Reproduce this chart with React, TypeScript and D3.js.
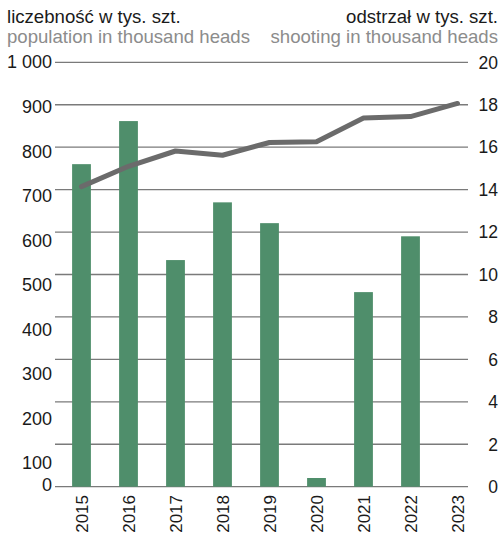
import React from "react";
import * as d3 from "d3";

const years = ["2015", "2016", "2017", "2018", "2019", "2020", "2021", "2022", "2023"];
// population in thousand heads (left axis) – line
const population = [707, 755, 791, 781, 811, 813, 869, 872, 903];
// shooting in thousand heads (right axis) – bars (2023 missing)
const shooting: (number | null)[] = [15.2, 17.23, 10.68, 13.4, 12.42, 0.41, 9.17, 11.8, null];
const leftTicks = [0, 100, 200, 300, 400, 500, 600, 700, 800, 900, 1000];
const rightTicks = [0, 2, 4, 6, 8, 10, 12, 14, 16, 18, 20];

const W = 502;
const H = 533;
const FONT = "'Liberation Sans', Arial, Helvetica, sans-serif";

export default function App() {
  const gridX0 = 55;
  const gridX1 = 468;
  const yTop = 62.3;
  const yBottom = 486.7;

  const x = d3.scaleBand<string>().domain(years).range([58, 481]).paddingInner(0.6).paddingOuter(0.3);
  const yLeft = d3.scaleLinear().domain([0, 1000]).range([yBottom, yTop]);
  const yRight = d3.scaleLinear().domain([0, 20]).range([yBottom, yTop]);
  // left labels in the original are spread slightly differently from the gridlines
  const yLeftLabel = d3.scaleLinear().domain([0, 100, 1000]).range([485, 463, 62]);

  const line = d3
    .line<number>()
    .x((_, i) => (x(years[i]) as number) + x.bandwidth() / 2)
    .y((d) => yLeft(d));

  const fmt = (v: number) => (v >= 1000 ? d3.format(",")(v).replace(",", " ") : String(v));

  return (
    <svg width={W} height={H} style={{ position: "absolute", left: 0, top: 0, background: "#fff" }} fontFamily={FONT}>
      {/* titles */}
      <text x={7} y={23} fontSize={18.6} fill="#1a1a1a">liczebność w tys. szt.</text>
      <text x={7} y={42.5} fontSize={18.6} fill="#8c8c8c">population in thousand heads</text>
      <text x={498} y={23} fontSize={18.6} fill="#1a1a1a" textAnchor="end">odstrzał w tys. szt.</text>
      <text x={498} y={42.5} fontSize={18.6} fill="#8c8c8c" textAnchor="end">shooting in thousand heads</text>

      {/* gridlines */}
      {leftTicks.map((t) => (
        <line key={"g" + t} x1={gridX0} x2={gridX1} y1={yLeft(t)} y2={yLeft(t)} stroke="#7a7a7a" strokeWidth={1.3} />
      ))}

      {/* left labels */}
      {leftTicks.map((t) => (
        <text key={"l" + t} x={52} y={yLeftLabel(t)} dy="0.36em" fontSize={18} fill="#1a1a1a" textAnchor="end">
          {fmt(t)}
        </text>
      ))}

      {/* right labels */}
      {rightTicks.map((t) => (
        <text key={"r" + t} x={498} y={yRight(t)} dy="0.36em" fontSize={17.5} fill="#1a1a1a" textAnchor="end">
          {t}
        </text>
      ))}

      {/* bars */}
      {shooting.map((v, i) =>
        v == null ? null : (
          <rect
            key={"b" + i}
            x={x(years[i])}
            y={yRight(v)}
            width={x.bandwidth()}
            height={yRight(0) - yRight(v)}
            fill="#4f8e6b"
          />
        )
      )}

      {/* line */}
      <path d={line(population) || ""} fill="none" stroke="#6b6b6b" strokeWidth={5} strokeLinejoin="round" strokeLinecap="round" />

      {/* x labels */}
      {years.map((yr) => {
        const cx = (x(yr) as number) + x.bandwidth() / 2;
        return (
          <text
            key={"x" + yr}
            transform={`translate(${cx + 0.5},495) rotate(-90)`}
            dy="0.36em"
            fontSize={17}
            fill="#1a1a1a"
            textAnchor="end"
          >
            {yr}
          </text>
        );
      })}
    </svg>
  );
}
